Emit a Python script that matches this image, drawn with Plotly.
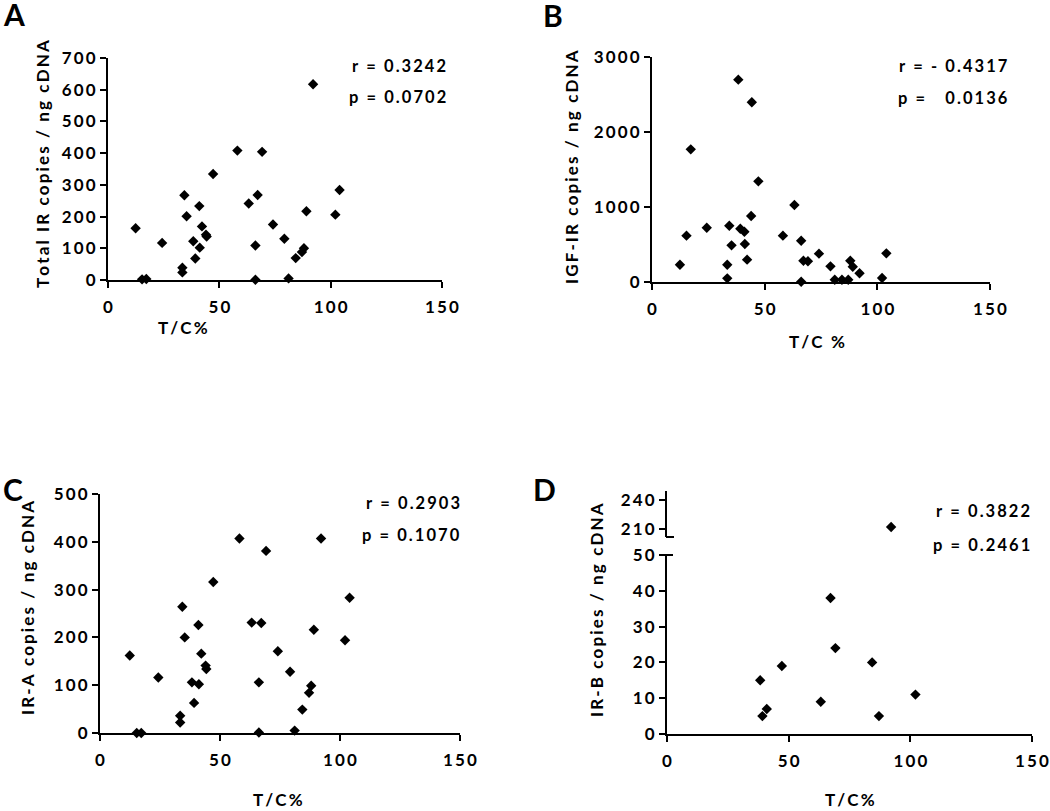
import plotly.graph_objects as go

# ---------------- data ----------------
tc = [12.4, 15.3, 17.2, 24.3, 33.4, 33.4, 34.3, 35.3, 38.3, 39.2, 41.0, 41.2,
      42.2, 44.0, 44.3, 47.2, 58.1, 63.2, 66.2, 66.2, 67.2, 69.2, 74.1, 79.2,
      81.1, 84.3, 87.1, 88.0, 89.1, 92.1, 102.1, 104.0]

total_ir = [163, 2, 3, 117, 39, 24, 267, 201, 122, 68, 233, 102,
            169, 143, 137, 334, 408, 241, 109, 1, 268, 404, 175, 130,
            5, 69, 88, 100, 217, 617, 206, 284]

igf_ir = [231, 618, 1769, 724, 231, 49, 751, 489, 2698, 711, 671, 507,
          298, 880, 2396, 1342, 618, 1027, 551, 4, 284, 276, 378, 209,
          31, 31, 31, 284, 204, 116, 53, 382]

ir_a = [162, 0, 0, 116, 36, 22, 264, 200, 106, 63, 226, 102,
        166, 141, 134, 316, 407, 231, 106, 1, 230, 381, 171, 128,
        5, 49, 84, 99, 216, 407, 194, 283]

ir_b = [None, None, None, None, None, None, None, None, 15, 5, 7, None,
        None, None, None, 19, None, 9, None, None, 38, 24, None, None,
        None, 20, 5, None, None, 212, 11, None]

x_ticks = [0, 50, 100, 150]
a_ticks = [0, 100, 200, 300, 400, 500, 600, 700]
b_ticks = [0, 1000, 2000, 3000]
c_ticks = [0, 100, 200, 300, 400, 500]
d_low_ticks = [0, 10, 20, 30, 40, 50]
d_high_ticks = [210, 240]

stats = {
    "A": ("r = 0.3242", "p = 0.0702"),
    "B": ("r = - 0.4317", "p =   0.0136"),
    "C": ("r = 0.2903", "p = 0.1070"),
    "D": ("r = 0.3822", "p = 0.2461"),
}
y_titles = {
    "A": "Total IR copies / ng cDNA",
    "B": "IGF-IR copies / ng cDNA",
    "C": "IR-A copies / ng cDNA",
    "D": "IR-B copies / ng cDNA",
}
x_titles = {"A": "T/C%", "B": "T/C %", "C": "T/C%", "D": "T/C%"}

# ---------------- helpers ----------------
W, H = 1050, 811
FONT = "Lato"
SP = "\u2009"


def spaced(s):
    return SP.join(list(s))


def bold(s):
    return "<b>" + spaced(s) + "</b>"


def xd(l, r):
    return [l / W, r / W]


def yd(b, t):
    return [1 - b / H, 1 - t / H]


def px(x):
    return x / W


def py(y):
    return 1 - y / H


X_RANGE = [0, 150]

axis_common = dict(
    showline=True, linecolor="black", linewidth=2, layer="above traces",
    ticks="outside", ticklen=6, tickwidth=2, tickcolor="black",
    showgrid=False, zeroline=False, automargin=False,
    tickfont=dict(family=FONT, size=17, color="black"),
)


def xaxis(dom, anchor):
    return dict(axis_common, domain=dom, range=X_RANGE, anchor=anchor,
                tickmode="array", tickvals=x_ticks,
                ticktext=[bold(str(v)) for v in x_ticks],
                ticklabelstandoff=5)


def yaxis(dom, rng, ticks, anchor):
    return dict(axis_common, domain=dom, range=rng, anchor=anchor,
                tickmode="array", tickvals=ticks,
                ticktext=[bold(str(v)) for v in ticks],
                ticklabelstandoff=1)


marker = dict(symbol="diamond", size=8, color="black")

fig = go.Figure()

specs = {
    "1": (xd(108, 442), yd(280, 58), [0, 700], a_ticks, True),
    "2": (xd(652, 990), yd(282, 57), [0, 3000], b_ticks, True),
    "3": (xd(100, 460), yd(733, 494), [0, 500], c_ticks, True),
    "4": (xd(667, 1032), yd(734, 555), [0, 50], d_low_ticks, True),
    "5": (xd(667, 1032), yd(537, 491), [201.7, 249.3], d_high_ticks, False),
}


def names(k):
    sx = "" if k == "1" else k
    return "x" + sx, "y" + sx


def add(xs, ys, xa, ya):
    pts = [(a, b) for a, b in zip(xs, ys) if b is not None]
    fig.add_trace(go.Scatter(
        x=[p[0] for p in pts], y=[p[1] for p in pts], mode="markers",
        marker=marker, xaxis=xa, yaxis=ya, cliponaxis=False,
        showlegend=False, hoverinfo="x+y"))


add(tc, total_ir, "x", "y")
add(tc, igf_ir, "x2", "y2")
add(tc, ir_a, "x3", "y3")
add(tc, [v if (v is not None and v <= 50) else None for v in ir_b], "x4", "y4")
add(tc, [v if (v is not None and v > 50) else None for v in ir_b], "x5", "y5")

layout_axes = {}
for k, (xdom, ydom, yr, yt, has_x) in specs.items():
    xa, ya = names(k)
    sx = xa[1:]
    xax = xaxis(xdom, ya)
    if not has_x:
        xax["visible"] = False
    layout_axes["xaxis" + sx] = xax
    layout_axes["yaxis" + sx] = yaxis(ydom, yr, yt, xa)

fig.update_layout(
    template="none", autosize=False,
    width=W, height=H, margin=dict(l=0, r=0, t=0, b=0, pad=0),
    paper_bgcolor="white", plot_bgcolor="white",
    **layout_axes,
)

# axis-break caps on panel D
LINE = dict(color="black", width=2)
fig.add_shape(type="line", xref="x5 domain", yref="y5 domain", xsizemode="pixel",
              xanchor=0, x0=-1, x1=7, y0=0, y1=0, line=LINE)
fig.add_shape(type="line", xref="x4 domain", yref="y4 domain", xsizemode="pixel",
              xanchor=0, x0=-2, x1=6, y0=1, y1=1, line=LINE)

ann = []
tfont = dict(family=FONT, size=16.5, color="black")
yfont = dict(family=FONT, size=17, color="black")

for letter, (x, y) in {"A": (1, 14), "B": (541, 15), "C": (1, 489), "D": (531, 489)}.items():
    ann.append(dict(text="<b>" + letter + "</b>", x=px(x), y=py(y), xref="paper", yref="paper",
                    xanchor="left", yanchor="middle", showarrow=False,
                    font=dict(family=FONT, size=30, color="black")))

stat_pos = {"A": (448, 66, 97), "B": (1010, 66, 98), "C": (462, 503, 535), "D": (1032, 511, 545)}
for k, (xr, yr_, yp) in stat_pos.items():
    r_txt, p_txt = stats[k]
    ann.append(dict(text=bold(r_txt), x=px(xr), y=py(yr_), xref="paper", yref="paper",
                    xanchor="right", yanchor="middle", showarrow=False, font=tfont))
    ann.append(dict(text=bold(p_txt), x=px(xr), y=py(yp), xref="paper", yref="paper",
                    xanchor="right", yanchor="middle", showarrow=False, font=tfont))

ytpos = {"A": (42, 164), "B": (571, 167), "C": (27, 608), "D": (596, 610)}
for k, (x, y) in ytpos.items():
    ann.append(dict(text=bold(y_titles[k]), x=px(x), y=py(y), xref="paper", yref="paper",
                    xanchor="center", yanchor="middle", textangle=-90, showarrow=False,
                    font=yfont))

xtpos = {"A": (183, 327), "B": (817, 341), "C": (278, 799), "D": (850, 799)}
for k, (x, y) in xtpos.items():
    ann.append(dict(text=bold(x_titles[k]), x=px(x), y=py(y), xref="paper", yref="paper",
                    xanchor="center", yanchor="middle", showarrow=False, font=yfont))

fig.update_layout(annotations=ann)

fig.write_html("out.html", config={"displayModeBar": False},
               post_script="document.body.style.margin='0';document.body.style.overflow='hidden';")
